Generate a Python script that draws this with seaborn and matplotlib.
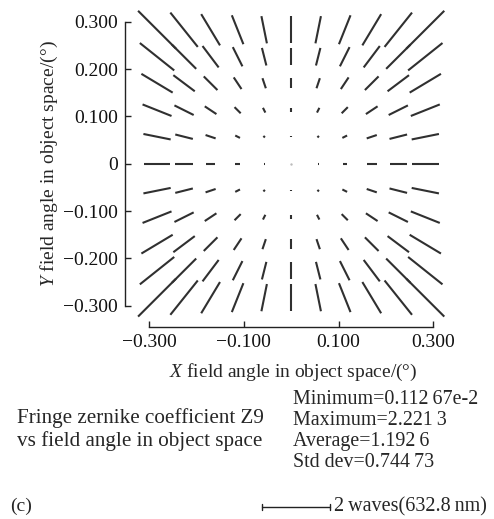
import numpy as np
import pandas as pd
import seaborn as sns
import matplotlib
matplotlib.use('Agg')
import matplotlib.pyplot as plt
from matplotlib.ticker import FixedLocator, FixedFormatter

# field points (deg), object space
field_x = [-0.283, -0.226, -0.170, -0.113, -0.057, 0.0, 0.057, 0.113, 0.170, 0.226, 0.283]
field_y = [0.283, 0.226, 0.170, 0.113, 0.057, 0.0, -0.057, -0.113, -0.170, -0.226, -0.283]

# Z9 magnitude (waves), rows top -> bottom
z9 = [
    [2.22, 1.82, 1.51, 1.29, 1.15, 1.11, 1.15, 1.29, 1.51, 1.82, 2.22],
    [1.82, 1.42, 1.11, 0.89, 0.75, 0.71, 0.75, 0.89, 1.11, 1.42, 1.82],
    [1.51, 1.11, 0.80, 0.58, 0.44, 0.40, 0.44, 0.58, 0.80, 1.11, 1.51],
    [1.29, 0.89, 0.58, 0.36, 0.22, 0.18, 0.22, 0.36, 0.58, 0.89, 1.29],
    [1.15, 0.75, 0.44, 0.22, 0.09, 0.04, 0.09, 0.22, 0.44, 0.75, 1.15],
    [1.11, 0.71, 0.40, 0.18, 0.04, 0.0011, 0.04, 0.18, 0.40, 0.71, 1.11],
    [1.15, 0.75, 0.44, 0.22, 0.09, 0.04, 0.09, 0.22, 0.44, 0.75, 1.15],
    [1.29, 0.89, 0.58, 0.36, 0.22, 0.18, 0.22, 0.36, 0.58, 0.89, 1.29],
    [1.51, 1.11, 0.80, 0.58, 0.44, 0.40, 0.44, 0.58, 0.80, 1.11, 1.51],
    [1.82, 1.42, 1.11, 0.89, 0.75, 0.71, 0.75, 0.89, 1.11, 1.42, 1.82],
    [2.22, 1.82, 1.51, 1.29, 1.15, 1.11, 1.15, 1.29, 1.51, 1.82, 2.22],
]

x_ticks = [-0.3, -0.1, 0.1, 0.3]
x_labels = ['\u22120.300', '\u22120.100', '0.100', '0.300']
y_ticks = [-0.3, -0.2, -0.1, 0.0, 0.1, 0.2, 0.3]
y_labels = ['\u22120.300', '\u22120.200', '\u22120.100', '0', '0.100', '0.200', '0.300']

stats = ['Minimum=0.112\u200967e-2', 'Maximum=2.221\u20093',
         'Average=1.192\u20096', 'Std dev=0.744\u200973']

wave_scale = 0.051  # field units per wave on the plot

rows = []
k = 0
for j, fy in enumerate(field_y):
    for i, fx in enumerate(field_x):
        half = z9[j][i] * wave_scale / 2
        ang = np.arctan2(fy, fx)
        dx, dy = half * np.cos(ang), half * np.sin(ang)
        rows.append((k, fx - dx, fy - dy, 0))
        rows.append((k, fx + dx, fy + dy, 1))
        k += 1
seg = pd.DataFrame(rows, columns=['seg', 'x', 'y', 'end'])

sns.set_style('ticks')
plt.rcParams['font.family'] = ['Liberation Serif', 'DejaVu Serif']
plt.rcParams['mathtext.fontset'] = 'custom'
plt.rcParams['mathtext.it'] = 'Liberation Serif:italic'
plt.rcParams['mathtext.rm'] = 'Liberation Serif'

W, H = 494, 519
fig = plt.figure(figsize=(W / 100, H / 100), dpi=100)
ax = fig.add_axes([125 / W, (H - 326.7) / H, 336.8 / W, 326.3 / H])

sns.lineplot(data=seg, x='x', y='y', units='seg', estimator=None, sort=False,
             color='#303030', lw=1.5, ax=ax, legend=False)
for ln in ax.lines:
    ln.set_clip_on(False)
    ln.set_solid_capstyle('butt')

# faint dots where the coefficient is almost zero
ax.scatter([0.0], [0.0], s=3, color='#bbbbbb', linewidths=0, clip_on=False)

ax.set_xlim(-0.3506, 0.36)
ax.set_ylim(-0.3444, 0.345)
sns.despine(ax=ax)
ax.spines['left'].set_bounds(-0.3, 0.3)
ax.spines['bottom'].set_bounds(-0.3, 0.3)
for s in ['left', 'bottom']:
    ax.spines[s].set_linewidth(1.0)
    ax.spines[s].set_color('#222222')

ax.xaxis.set_major_locator(FixedLocator(x_ticks))
ax.xaxis.set_major_formatter(FixedFormatter(x_labels))
ax.yaxis.set_major_locator(FixedLocator(y_ticks))
ax.yaxis.set_major_formatter(FixedFormatter(y_labels))
ax.tick_params(direction='in', length=4, width=1.0, color='#222222',
               labelsize=14, labelcolor='#111111')
ax.tick_params(axis='y', pad=5)
ax.tick_params(axis='x', pad=5)

ax.set_xlabel('$X$ field angle in object space/(\u00b0)', fontsize=14, labelpad=8)
ax.set_ylabel('$Y$ field angle in object space/(\u00b0)', fontsize=14, labelpad=2)

def fx(p):
    return p / W

def fy(p):
    return 1 - p / H

fig.text(fx(140), fy(423.3), 'Fringe zernike coefficient Z9', ha='center',
         va='baseline', fontsize=15.2)
fig.text(fx(140), fy(445.7), 'vs field angle in object space', ha='center',
         va='baseline', fontsize=15.2)
for n, s in enumerate(stats):
    fig.text(fx(293), fy(404.3 + 21 * n), s, ha='left', va='baseline', fontsize=14.4)

fig.text(fx(10), fy(511), '(c)', ha='left', va='baseline', fontsize=14)

# scale bar for 2 waves
bar_y = fy(506.7)
fig.add_artist(plt.Line2D([fx(262), fx(330)], [bar_y, bar_y], color='#222222', lw=1.0))
for xb in [262, 330]:
    fig.add_artist(plt.Line2D([fx(xb), fx(xb)], [bar_y - 3 / H, bar_y + 3 / H],
                              color='#222222', lw=1.0))
fig.text(fx(334), fy(511.5), '2\u2009waves(632.8\u2009nm)', ha='left', va='baseline',
         fontsize=14.5)

fig.savefig('out.png', dpi=100)
